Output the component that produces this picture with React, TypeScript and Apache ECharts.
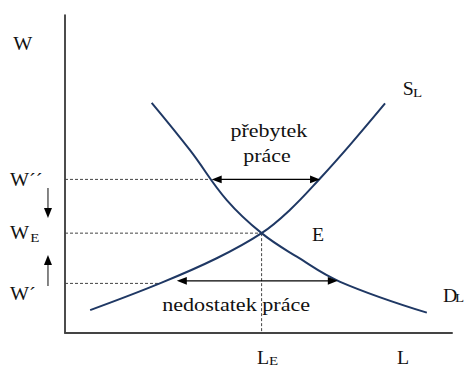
import React, { useEffect, useRef } from "react";
import * as echarts from "echarts";

// Curve points (L, W) in diagram units (0–100 on both axes)
const supplyCurve: number[][] = [
  [6.5, 7.2], [24.5, 15.6], [39.2, 23.5], [50.8, 31.4], [58.1, 38.7], [65.9, 48.6], [73.6, 59.1], [82.7, 72.2],
];
const demandCurve: number[][] = [
  [22.4, 72.4], [32.3, 57.5], [41.8, 41.8], [50.8, 31.4], [59.9, 24.0], [71.1, 16.1], [93.5, 6.4],
];

const EQ_L = 50.8;
const EQ_W = 31.4;
const W_HIGH = 48.3;
const W_LOW = 15.6;

// dashed guide lines [x1, y1, x2, y2]
const guides: number[][] = [
  [0, W_HIGH, 37.0, W_HIGH],
  [0, EQ_W, EQ_L, EQ_W],
  [0, W_LOW, 24.5, W_LOW],
  [EQ_L, EQ_W, EQ_L, 0],
];

// double-headed arrows [x1, y1, x2, y2]
const doubleArrows: number[][] = [
  [37.9, 48.3, 65.9, 48.3],
  [28.9, 16.4, 70.5, 16.4],
];

// single arrows, head at the second point
const singleArrows: number[][] = [
  [-4.4, 45.6, -4.4, 36.2],
  [-4.4, 14.8, -4.4, 24.5],
];

type Label = { text: string; x: number; y: number; size: number; sx: number; align: string };
const labels: Label[] = [
  { text: "W", x: -13.4, y: 90.9, size: 18, sx: 1.12, align: "left" },
  { text: "W´´", x: -14.2, y: W_HIGH, size: 18, sx: 1.12, align: "left" },
  { text: "W", x: -14.2, y: EQ_W, size: 18, sx: 1.12, align: "left" },
  { text: "E", x: -9.0, y: 30.0, size: 13, sx: 1.15, align: "left" },
  { text: "W´", x: -14.2, y: 12.3, size: 18, sx: 1.12, align: "left" },
  { text: "přebytek", x: 52.7, y: 63.5, size: 18, sx: 1.22, align: "center" },
  { text: "práce", x: 52.2, y: 55.7, size: 18, sx: 1.22, align: "center" },
  { text: "nedostatek práce", x: 25.1, y: 8.8, size: 18, sx: 1.23, align: "left" },
  { text: "S", x: 87.3, y: 76.7, size: 18, sx: 1.1, align: "left" },
  { text: "L", x: 89.9, y: 75.5, size: 13, sx: 1.15, align: "left" },
  { text: "E", x: 63.8, y: 30.8, size: 18, sx: 1.1, align: "left" },
  { text: "D", x: 97.7, y: 11.8, size: 18, sx: 1.1, align: "left" },
  { text: "L", x: 100.8, y: 11.0, size: 13, sx: 1.15, align: "left" },
  { text: "L", x: 49.6, y: -7.9, size: 18, sx: 1.1, align: "left" },
  { text: "E", x: 52.7, y: -8.6, size: 13, sx: 1.15, align: "left" },
  { text: "L", x: 85.8, y: -7.9, size: 18, sx: 1.1, align: "left" },
];

const CURVE_COLOR = "#1f3864";
const FAMILY = "Liberation Serif";

function head(tip: number[], from: number[], len = 10, half = 3.8) {
  const dx = tip[0] - from[0];
  const dy = tip[1] - from[1];
  const d = Math.hypot(dx, dy) || 1;
  const ux = dx / d;
  const uy = dy / d;
  const bx = tip[0] - ux * len;
  const by = tip[1] - uy * len;
  return {
    type: "polygon",
    shape: { points: [[tip[0], tip[1]], [bx - uy * half, by + ux * half], [bx + uy * half, by - ux * half]] },
    style: { fill: "#000" },
  };
}

export default function App() {
  const ref = useRef<HTMLDivElement>(null);
  useEffect(() => {
    if (!ref.current) return;
    const chart = echarts.init(ref.current, undefined, { renderer: "svg" });
    const option: any = {
      animation: false,
      backgroundColor: "#fff",
      textStyle: { fontFamily: FAMILY },
      grid: { left: 65, top: 15, width: 387, height: 318, containLabel: false },
      xAxis: {
        type: "value", min: 0, max: 100,
        axisLine: { show: true, lineStyle: { color: "#444", width: 2 } },
        axisTick: { show: false }, axisLabel: { show: false }, splitLine: { show: false },
      },
      yAxis: {
        type: "value", min: 0, max: 100,
        axisLine: { show: true, lineStyle: { color: "#111", width: 1.5 } },
        axisTick: { show: false }, axisLabel: { show: false }, splitLine: { show: false },
      },
      series: [
        {
          type: "custom", z: 1, silent: true, clip: false,
          data: guides,
          renderItem: (_p: any, api: any) => {
            const a = api.coord([api.value(0), api.value(1)]);
            const b = api.coord([api.value(2), api.value(3)]);
            return {
              type: "line",
              shape: { x1: a[0], y1: a[1], x2: b[0], y2: b[1] },
              style: { stroke: "#444", lineWidth: 1, lineDash: [3, 2] },
            };
          },
        },
        {
          type: "line", z: 3, data: supplyCurve, smooth: 0.4, symbol: "none", silent: true,
          lineStyle: { color: CURVE_COLOR, width: 2 },
        },
        {
          type: "line", z: 3, data: demandCurve, smooth: 0.4, symbol: "none", silent: true,
          lineStyle: { color: CURVE_COLOR, width: 2 },
        },
        {
          type: "custom", z: 4, silent: true, clip: false,
          data: doubleArrows,
          renderItem: (_p: any, api: any) => {
            const a = api.coord([api.value(0), api.value(1)]);
            const b = api.coord([api.value(2), api.value(3)]);
            return {
              type: "group",
              children: [
                { type: "line", shape: { x1: a[0] + 8, y1: a[1], x2: b[0] - 8, y2: b[1] }, style: { stroke: "#000", lineWidth: 1.2 } },
                head(a, b),
                head(b, a),
              ],
            };
          },
        },
        {
          type: "custom", z: 4, silent: true, clip: false,
          data: singleArrows,
          renderItem: (_p: any, api: any) => {
            const a = api.coord([api.value(0), api.value(1)]);
            const b = api.coord([api.value(2), api.value(3)]);
            const dir = b[1] > a[1] ? 1 : -1;
            return {
              type: "group",
              children: [
                { type: "line", shape: { x1: a[0], y1: a[1], x2: b[0], y2: b[1] - dir * 8 }, style: { stroke: "#333", lineWidth: 1.2 } },
                head(b, a, 10, 4),
              ],
            };
          },
        },
      ],
    };
    chart.setOption(option);
    // Text annotations placed through the grid's coordinate conversion
    const graphic = labels.map((l) => {
      const c = chart.convertToPixel({ gridIndex: 0 }, [l.x, l.y]) as number[];
      return {
        type: "text",
        x: c[0], y: c[1], scaleX: l.sx, z: 10, silent: true,
        style: {
          text: l.text, x: 0, y: 0,
          fontSize: l.size, fontFamily: FAMILY,
          textAlign: l.align, textVerticalAlign: "middle",
          align: l.align, verticalAlign: "middle",
          fill: "#111",
        },
      };
    });
    chart.setOption({ graphic });
    return () => chart.dispose();
  }, []);
  return (
    <div
      ref={ref}
      style={{ position: "absolute", left: 0, top: 0, width: 466, height: 367, background: "#fff" }}
    />
  );
}
